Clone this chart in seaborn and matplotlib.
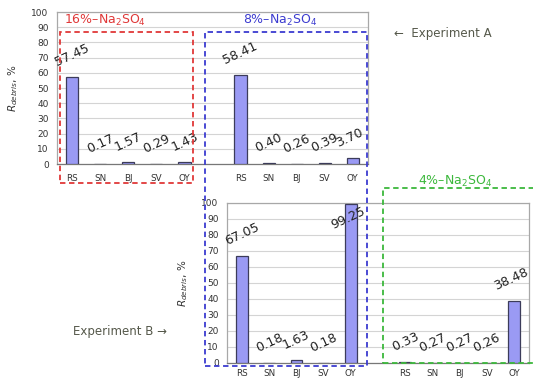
import matplotlib
matplotlib.use("Agg")
import matplotlib.pyplot as plt
import seaborn as sns
import pandas as pd
import numpy as np
from matplotlib.patches import Rectangle

sites = ["RS", "SN", "BJ", "SV", "OY"]
a_16 = [57.45, 0.17, 1.57, 0.29, 1.43]
a_8 = [58.41, 0.40, 0.26, 0.39, 3.70]
b_8 = [67.05, 0.18, 1.63, 0.18, 99.25]
b_4 = [0.33, 0.27, 0.27, 0.26, 38.48]
yticks = [0, 10, 20, 30, 40, 50, 60, 70, 80, 90, 100]

sns.set_theme(style="white")
plt.rcParams['font.family'] = ['DejaVu Sans']

BAR = "#9a9af4"
EDGE = "#3c3c5a"
GRID = "#d4d4d4"
FRAME = "#a8a8a8"
TXT = "#333333"

fig = plt.figure(figsize=(5.33, 3.8), dpi=100)

def panel(rect, g1, g2, xpad):
    ax = fig.add_axes(rect)
    pos = list(range(5)) + [p + 6 for p in range(5)]
    vals = list(g1) + list(g2)
    df = pd.DataFrame({"pos": pos, "val": vals})
    sns.barplot(data=df, x="pos", y="val", native_scale=True, width=0.43,
                color=BAR, edgecolor=EDGE, linewidth=0.9, saturation=1, ax=ax,
                zorder=3)
    ax.set_xlim(-0.55, 10.55)
    ax.set_ylim(0, 100)
    ax.set_yticks(yticks)
    ax.set_xticks(pos)
    ax.set_xticklabels(sites + sites, fontsize=6.3, color=TXT)
    ax.tick_params(axis="y", labelsize=6.5, labelcolor=TXT, length=0, pad=6)
    ax.tick_params(axis="x", length=0, pad=xpad)
    ax.yaxis.grid(True, color=GRID, linewidth=0.8, zorder=0)
    ax.set_axisbelow(True)
    for s in ["top", "right", "left"]:
        ax.spines[s].set_color(FRAME)
        ax.spines[s].set_linewidth(0.9)
    ax.spines["bottom"].set_color("#777777")
    ax.spines["bottom"].set_linewidth(0.9)
    ax.set_xlabel("")
    ax.set_ylabel(r"$R_{debris}$, %", fontsize=7.5, color=TXT, labelpad=8)
    for p, v in zip(pos, vals):
        off = (0, 6) if v < 90 else (-2, -20)
        if p == 10 and v < 90:
            off = (-2, 6)
        ax.annotate(f"{v:.2f}", (p, v), xytext=off, textcoords="offset points",
                    ha="center", va="bottom", rotation=25, fontsize=9.2,
                    color="#222222", zorder=5)
    return ax

axA = panel([57/533, 1 - 164/380, 311/533, 152/380], a_16, a_8, 7)
axB = panel([227/533, 1 - 363/380, 302/533, 160/380], b_8, b_4, 4.5)

# dashed boxes
boxes = [
    (60, 32, 193, 183, "#e03838"),
    (205, 32, 367, 366, "#3c3cd0"),
    (383, 188, 540, 363, "#3cb83c"),
]
for x0, y0, x1, y1, c in boxes:
    fig.patches.append(Rectangle((x0/533, 1 - y1/380), (x1-x0)/533, (y1-y0)/380,
                                 transform=fig.transFigure, fill=False,
                                 edgecolor=c, linestyle=(0, (3, 2)), linewidth=1.3,
                                 zorder=10))

fig.text(105/533, 1 - 20/380, r"16%–Na$_2$SO$_4$", color="#e03838", fontsize=9,
         ha="center", va="center")
fig.text(280/533, 1 - 20/380, r"8%–Na$_2$SO$_4$", color="#3c3cd0", fontsize=9,
         ha="center", va="center")
fig.text(455/533, 1 - 181/380, r"4%–Na$_2$SO$_4$", color="#3cb83c", fontsize=9,
         ha="center", va="center")
fig.text(443/533, 1 - 33/380, "←  Experiment A", color="#55584a", fontsize=8.5,
         ha="center", va="center")
fig.text(120/533, 1 - 332/380, "Experiment B →", color="#55584a", fontsize=8.5,
         ha="center", va="center")

fig.savefig("out.png", dpi=100)
